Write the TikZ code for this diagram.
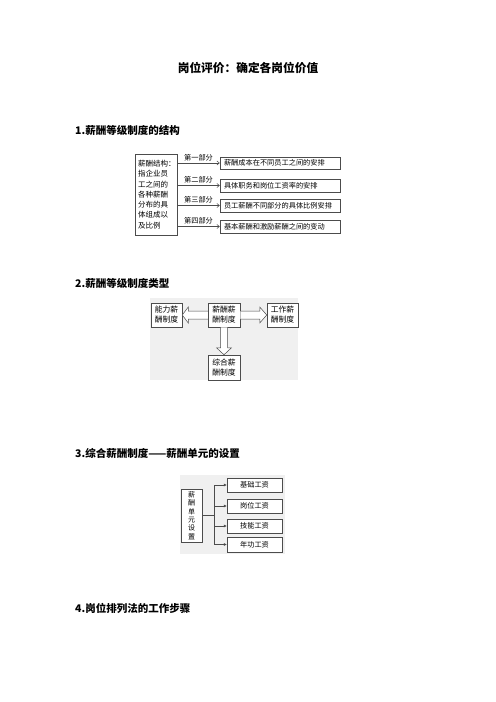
\documentclass[tikz,border=0pt]{standalone}
\usepackage{fontspec}
\setmainfont{Noto Sans CJK SC}
\usetikzlibrary{arrows.meta,calc}

\begin{document}
\begin{tikzpicture}[x=1bp,y=-1bp,
  every node/.style={inner sep=0pt},
  box/.style={draw=black!70,line width=0.5bp,fill=white},
  note/.style={font=\fontsize{7.2bp}{9bp}\selectfont},
  head/.style={anchor=west,font=\fontsize{10.5bp}{12bp}\selectfont\bfseries},
  link/.style={draw=black!70,line width=0.5bp},
  hollow/.style={draw=black!70,line width=0.5bp,fill=white},
  shade/.style={fill=black!6}]
\useasboundingbox (0,0) rectangle (496,702);
\node[font=\fontsize{11.7bp}{14bp}\selectfont\bfseries] (title) at (248,68) {岗位评价：确定各岗位价值};

% structure
\node[head] (h1) at (75,130) {1.薪酬等级制度的结构};
\node[box,minimum width=42bp,minimum height=81bp,text width=36bp,align=left,font=\fontsize{7.5bp}{10.3bp}\selectfont] (struct) at (156,194.5) {薪酬结构：\\指企业员\\工之间的\\各种薪酬\\分布的具\\体组成以\\及比例};
\node[box,minimum width=120bp,minimum height=12bp,text width=112bp,align=left,note] (part1) at (280,163) {薪酬成本在不同员工之间的安排};
\node[box,minimum width=120bp,minimum height=13bp,text width=112bp,align=left,note] (part2) at (280,185.5) {具体职务和岗位工资率的安排};
\node[box,minimum width=120bp,minimum height=13bp,text width=112bp,align=left,note] (part3) at (280,205.5) {员工薪酬不同部分的具体比例安排};
\node[box,minimum width=120bp,minimum height=13bp,text width=112bp,align=left,note] (part4) at (280,226.5) {基本薪酬和激励薪酬之间的变动};
\draw[link,-{Straight Barb[length=2.5bp,width=4bp]}] (struct.east |- part1.west) -- node[above=2bp,note] {第一部分} (part1.west);
\draw[link,-{Straight Barb[length=2.5bp,width=4bp]}] (struct.east |- part2.west) -- node[above=2bp,note] {第二部分} (part2.west);
\draw[link,-{Straight Barb[length=2.5bp,width=4bp]}] (struct.east |- part3.west) -- node[above=2bp,note] {第三部分} (part3.west);
\draw[link,-{Straight Barb[length=2.5bp,width=4bp]}] (struct.east |- part4.west) -- node[above=2bp,note] {第四部分} (part4.west);

% types
\node[head] (h2) at (75,283) {2.薪酬等级制度类型};
\fill[shade] (150,298) rectangle (298,380);
\node[box,minimum width=31bp,minimum height=24bp,align=center,font=\fontsize{7.8bp}{10bp}\selectfont] (abil) at (166.5,315) {能力薪\\酬制度};
\node[box,minimum width=32bp,minimum height=24bp,align=center,font=\fontsize{7.8bp}{10bp}\selectfont] (mid) at (224,315) {薪酬薪\\酬制度};
\node[box,minimum width=31bp,minimum height=24bp,align=center,font=\fontsize{7.8bp}{10bp}\selectfont] (work) at (282.5,315) {工作薪\\酬制度};
\node[box,minimum width=32bp,minimum height=25bp,align=center,font=\fontsize{7.8bp}{10bp}\selectfont] (comb) at (224,367.5) {综合薪\\酬制度};
\draw[hollow] ($(mid.west)+(0,-4)$) -- ($(abil.east)+(6,-4)$) -- ($(abil.east)+(6,-8)$) -- (abil.east) -- ($(abil.east)+(6,8)$) -- ($(abil.east)+(6,4)$) -- ($(mid.west)+(0,4)$);
\draw[hollow] ($(mid.east)+(0,-4)$) -- ($(work.west)+(-7,-4)$) -- ($(work.west)+(-7,-8)$) -- (work.west) -- ($(work.west)+(-7,8)$) -- ($(work.west)+(-7,4)$) -- ($(mid.east)+(0,4)$);
\draw[hollow] ($(mid.south)+(-3.5,0)$) -- ($(comb.north)+(-3.5,-7)$) -- ($(comb.north)+(-7.5,-7)$) -- (comb.north) -- ($(comb.north)+(7.5,-7)$) -- ($(comb.north)+(3.5,-7)$) -- ($(mid.south)+(3.5,0)$);

% units
\node[head] (h3) at (75,453) {3.综合薪酬制度——薪酬单元的设置};
\fill[shade] (180,475) rectangle (285,554);
\node[box,minimum width=21bp,minimum height=53bp,align=center,font=\fontsize{7bp}{8.3bp}\selectfont] (unit) at (191.5,515.5) {薪\\酬\\单\\元\\设\\置};
\node[box,minimum width=55bp,minimum height=14bp,note] (base) at (254.5,485) {基础工资};
\node[box,minimum width=55bp,minimum height=14bp,note] (post) at (254.5,506) {岗位工资};
\node[box,minimum width=55bp,minimum height=14bp,note] (skill) at (254.5,526) {技能工资};
\node[box,minimum width=55bp,minimum height=15bp,note] (senior) at (254.5,544.5) {年功工资};
\coordinate (fork) at ($(unit.east)+(12,0)$);
\draw[link] (unit.east) -- (fork);
\draw[link] (fork |- base.west) -- (fork |- senior.west);
\draw[link,-{Latex[length=3bp,width=3bp]}] (fork |- base.west) -- (base.west);
\draw[link,-{Latex[length=3bp,width=3bp]}] (fork |- post.west) -- (post.west);
\draw[link,-{Latex[length=3bp,width=3bp]}] (fork |- skill.west) -- (skill.west);
\draw[link,-{Latex[length=3bp,width=3bp]}] (fork |- senior.west) -- (senior.west);

\node[head] (h4) at (75,608) {4.岗位排列法的工作步骤};
\end{tikzpicture}
\end{document}
